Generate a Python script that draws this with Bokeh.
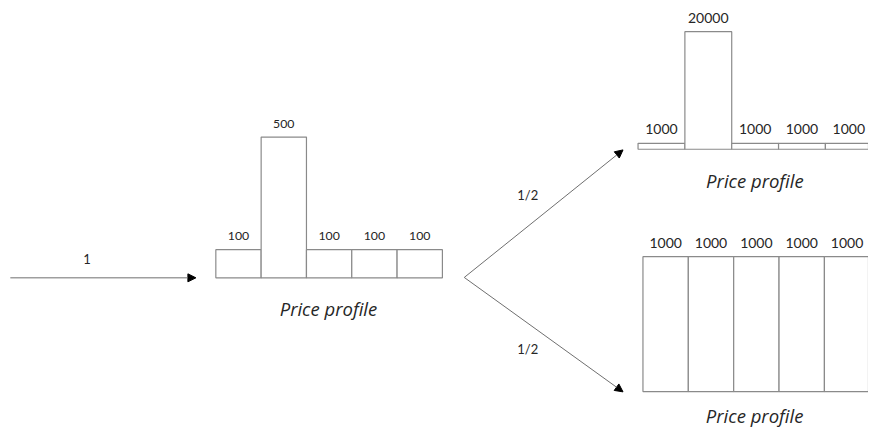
from bokeh.plotting import figure
from bokeh.models import Range1d, Arrow, NormalHead, Label
from bokeh.embed import file_html
from bokeh.resources import INLINE
from bokeh.core.properties import value

# ---- data ----
profile_start = [100, 500, 100, 100, 100]
profile_up = [1000, 20000, 1000, 1000, 1000]
profile_down = [1000, 1000, 1000, 1000, 1000]
label_in = "1"
label_branch = "1/2"
caption = "Price profile"

# ---- layout (reference image pixel coords, scaled into the canvas) ----
W, H = 868, 428
IW, IH = 884, 444
BOX = "#8a8a8a"
LINE = "#6f6f6f"
TXT = "#262626"
NUMFONT = "Lato"
CAPFONT = "Open Sans"

p = figure(width=W, height=H, output_backend="svg", toolbar_location=None,
           x_range=Range1d(0, IW), y_range=Range1d(IH, 0),
           min_border=0, outline_line_color=None)
p.axis.visible = False
p.grid.visible = False
p.background_fill_color = "white"
p.border_fill_color = "white"

def add_panel(name, vals, left, width, base_y, top_y, vmax, fs, gap):
    # value-scale: 0 -> base_y, vmax -> top_y (image y, downward)
    s = (base_y - top_y) / vmax
    start = -(IH - base_y) / s
    end = base_y / s
    p.extra_y_ranges[name] = Range1d(start, end)
    xs = [left + width * (i + 0.5) for i in range(len(vals))]
    p.vbar(x=xs, top=vals, bottom=0, width=width, y_range_name=name,
           fill_color="white", line_color=BOX, line_width=1.2)
    p.text(x=xs, y=vals, text=[str(v) for v in vals], y_range_name=name,
           text_align="center", text_baseline="middle", y_offset=-gap,
           text_font=value(NUMFONT), text_font_size=f"{fs}px", text_color=TXT)

add_panel("a", profile_start, 219.3, 46.15, 287.7, 141.7, 500, 12.3, 13.2)
add_panel("b", profile_up, 649.3, 47.7, 154.3, 32.3, 20000, 14, 14)
add_panel("c", profile_down, 654.3, 46.2, 405.7, 265.7, 1000, 14, 14)

def cap(x, y):
    p.add_layout(Label(x=x, y=y, text=caption, text_align="center",
                       text_baseline="middle", text_font=CAPFONT,
                       text_font_style="italic", text_font_size="18.5px",
                       text_color=TXT))

cap(334, 319)
cap(768.3, 186.7)
cap(768, 430)

def arrow(x0, y0, x1, y1):
    p.add_layout(Arrow(x_start=x0, y_start=y0, x_end=x1, y_end=y1,
                       line_color=LINE, line_width=1,
                       end=NormalHead(size=8, fill_color="black",
                                      line_color="black", line_width=1)))

arrow(10, 287.7, 199, 287.7)
arrow(472.3, 287.3, 634, 155)
arrow(472.3, 287.3, 634, 406)

def lab(x, y, t):
    p.add_layout(Label(x=x, y=y, text=t, text_align="center",
                       text_baseline="middle", text_font=NUMFONT,
                       text_font_size="13px", text_color=TXT))

lab(88, 267.7, label_in)
lab(537, 201.7, label_branch)
lab(537, 361.7, label_branch)

open("out.html", "w").write(file_html(p, INLINE))
